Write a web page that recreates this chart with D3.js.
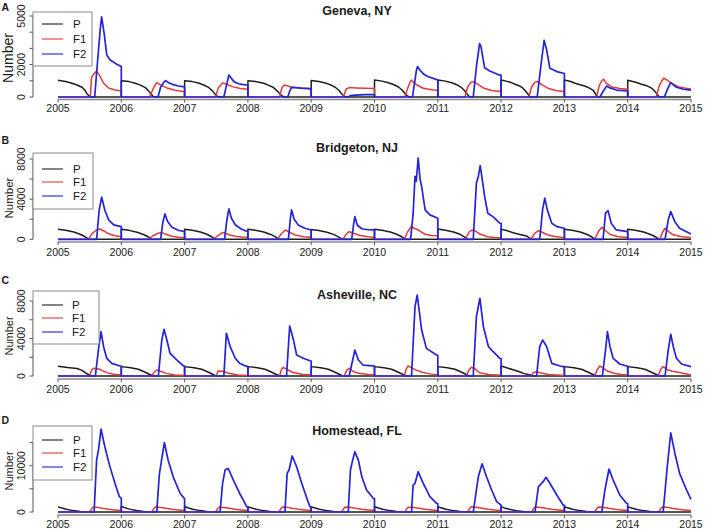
<!DOCTYPE html>
<html><head><meta charset="utf-8">
<script src="https://cdn.jsdelivr.net/npm/d3@7"></script>
<style>
html,body{margin:0;padding:0;background:#fff;}
text{font-family:"Liberation Sans",Arial,Helvetica,sans-serif;fill:#1a1a1a;}
</style></head>
<body><svg id="chart" width="708" height="531"></svg>
<script>
// ---------------- DATA ----------------
const xTickYears = [2005,2006,2007,2008,2009,2010,2011,2012,2013,2014,2015];
const seriesNames = ["P","F1","F2"];
const titles = ["Geneva, NY","Bridgeton, NJ","Asheville, NC","Homestead, FL"];
const letters = ["A","B","C","D"];
const yTicksA = [0,1000,2000,3000,4000,5000]; const yLabelsA = [0,2000,5000];
const yTicksB = [0,2000,4000,6000,8000];      const yLabelsB = [0,4000,8000];
const yTicksC = [0,2000,4000,6000,8000];      const yLabelsC = [0,4000,8000];
const yTicksD = [0,5000,10000,15000];         const yLabelsD = [0,10000];

// Geneva, NY
const genevaP = [[2005,1030],[2005.12,960],[2005.22,850],[2005.3,740],[2005.38,600],[2005.43,380],[2005.46,190],[2005.5,40],[2005.53,0],
[2006,0],[2006,1000],[2006.12,950],[2006.22,850],[2006.3,730],[2006.38,580],[2006.43,380],[2006.47,180],[2006.5,40],[2006.53,0],
[2007,0],[2007,1000],[2007.12,950],[2007.22,860],[2007.3,740],[2007.38,590],[2007.44,380],[2007.48,180],[2007.52,40],[2007.55,0],
[2008,0],[2008,1000],[2008.12,950],[2008.25,850],[2008.33,720],[2008.4,600],[2008.46,380],[2008.5,220],[2008.54,60],[2008.57,0],
[2009,0],[2009,1020],[2009.12,960],[2009.22,870],[2009.3,760],[2009.38,600],[2009.44,400],[2009.48,200],[2009.52,50],[2009.55,0],
[2010,0],[2010,1050],[2010.12,980],[2010.22,880],[2010.3,770],[2010.38,620],[2010.44,420],[2010.48,220],[2010.52,60],[2010.55,0],
[2011,0],[2011,1050],[2011.12,980],[2011.22,880],[2011.3,760],[2011.37,600],[2011.42,400],[2011.46,200],[2011.49,50],[2011.52,0],
[2012,0],[2012,1050],[2012.08,980],[2012.16,890],[2012.24,760],[2012.29,680],[2012.34,560],[2012.37,450],[2012.42,200],[2012.46,0],
[2013,0],[2013,1050],[2013.1,960],[2013.17,850],[2013.25,760],[2013.32,680],[2013.39,560],[2013.45,430],[2013.49,200],[2013.52,0],
[2014,0],[2014,1040],[2014.08,960],[2014.14,890],[2014.22,790],[2014.3,700],[2014.37,560],[2014.41,430],[2014.46,200],[2014.5,0],[2015,0]];
const genevaF1 = [[2005,0],[2005.51,0],[2005.53,1200],[2005.57,1450],[2005.61,1600],[2005.66,1300],[2005.72,850],[2005.8,560],[2005.9,430],[2006,370],[2006,0],
[2006.45,0],[2006.5,500],[2006.56,890],[2006.62,750],[2006.72,560],[2006.85,420],[2007,330],[2007,0],
[2007.49,0],[2007.53,550],[2007.6,860],[2007.66,800],[2007.75,640],[2007.88,520],[2008,480],[2008,0],
[2008.5,0],[2008.54,600],[2008.58,740],[2008.63,680],[2008.7,600],[2008.85,560],[2009,520],[2009,0],
[2009.51,0],[2009.55,480],[2009.6,580],[2009.7,560],[2009.85,540],[2010,530],[2010,0],
[2010.48,0],[2010.52,500],[2010.55,800],[2010.58,1050],[2010.62,900],[2010.67,740],[2010.77,540],[2010.93,430],[2011,420],[2011,0],
[2011.43,0],[2011.47,600],[2011.52,900],[2011.56,950],[2011.63,800],[2011.72,560],[2011.85,400],[2012,340],[2012,0],
[2012.44,0],[2012.48,600],[2012.53,900],[2012.57,960],[2012.65,750],[2012.75,520],[2012.88,380],[2013,340],[2013,0],
[2013.51,0],[2013.55,700],[2013.59,1000],[2013.62,1100],[2013.66,850],[2013.75,620],[2013.88,520],[2014,480],[2014,0],
[2014.45,0],[2014.5,700],[2014.54,1000],[2014.57,1160],[2014.62,1050],[2014.7,820],[2014.8,640],[2014.9,560],[2015,500]];
const genevaF2 = [[2005,0],[2005.58,0],[2005.61,1500],[2005.64,2900],[2005.67,4300],[2005.69,4950],[2005.71,4400],[2005.73,3900],[2005.77,2600],[2005.82,2300],[2005.9,2090],[2006,1880],[2006,0],
[2006.58,0],[2006.62,600],[2006.67,900],[2006.7,1010],[2006.75,880],[2006.82,760],[2006.9,680],[2007,620],[2007,0],
[2007.62,0],[2007.66,700],[2007.7,1360],[2007.73,1200],[2007.78,950],[2007.85,820],[2007.93,760],[2008,740],[2008,0],
[2008.63,0],[2008.66,350],[2008.69,600],[2008.75,580],[2008.85,540],[2009,500],[2009,0],
[2009.58,0],[2009.62,80],[2009.7,120],[2009.85,150],[2010,150],[2010,0],
[2010.6,0],[2010.63,800],[2010.66,1600],[2010.68,1880],[2010.72,1650],[2010.78,1400],[2010.85,1250],[2010.95,1120],[2011,1050],[2011,0],
[2011.56,0],[2011.61,1880],[2011.66,3300],[2011.68,3150],[2011.74,1800],[2011.82,1610],[2011.97,1360],[2012,1350],[2012,0],
[2012.57,0],[2012.64,2290],[2012.68,3490],[2012.72,2900],[2012.77,1780],[2012.88,1570],[2013,1450],[2013,0],
[2013.56,0],[2013.62,400],[2013.67,680],[2013.72,560],[2013.82,430],[2014,370],[2014,0],
[2014.58,0],[2014.63,500],[2014.68,890],[2014.77,600],[2014.88,480],[2015,430]];

// Bridgeton, NJ
const bridgetonP = [[2005,1000],[2005.12,900],[2005.25,720],[2005.35,500],[2005.43,250],[2005.49,0],
[2006,0],[2006,1000],[2006.12,890],[2006.25,700],[2006.35,480],[2006.43,230],[2006.48,0],
[2007,0],[2007,1000],[2007.12,900],[2007.25,720],[2007.35,500],[2007.43,250],[2007.49,0],
[2008,0],[2008,1000],[2008.12,900],[2008.25,730],[2008.35,510],[2008.43,260],[2008.49,0],
[2009,0],[2009,980],[2009.12,880],[2009.25,700],[2009.35,490],[2009.43,240],[2009.5,0],
[2010,0],[2010,1000],[2010.12,900],[2010.25,720],[2010.35,500],[2010.43,250],[2010.49,0],
[2011,0],[2011,1020],[2011.12,910],[2011.25,730],[2011.35,500],[2011.42,250],[2011.47,0],
[2012,0],[2012,1000],[2012.1,850],[2012.19,660],[2012.3,480],[2012.4,330],[2012.48,0],
[2013,0],[2013,1000],[2013.12,900],[2013.25,720],[2013.35,500],[2013.43,250],[2013.49,0],
[2014,0],[2014,1000],[2014.12,900],[2014.25,720],[2014.35,500],[2014.44,250],[2014.5,0],[2015,0]];
const bridgetonF1 = [[2005,0],[2005.48,0],[2005.53,500],[2005.6,900],[2005.66,1030],[2005.72,850],[2005.8,550],[2005.9,350],[2006,260],[2006,0],
[2006.43,0],[2006.5,350],[2006.58,600],[2006.64,670],[2006.7,500],[2006.8,300],[2006.9,200],[2007,150],[2007,0],
[2007.46,0],[2007.52,350],[2007.58,600],[2007.62,670],[2007.7,450],[2007.8,300],[2007.9,220],[2008,200],[2008,0],
[2008.47,0],[2008.52,500],[2008.59,930],[2008.66,700],[2008.75,420],[2008.88,250],[2009,200],[2009,0],
[2009.5,0],[2009.55,500],[2009.6,760],[2009.67,600],[2009.77,380],[2009.9,250],[2010,200],[2010,0],
[2010.47,0],[2010.52,700],[2010.58,1260],[2010.63,1100],[2010.7,900],[2010.8,500],[2010.9,380],[2011,350],[2011,0],
[2011.44,0],[2011.49,700],[2011.53,900],[2011.58,880],[2011.66,550],[2011.78,250],[2011.9,180],[2012,150],[2012,0],
[2012.47,0],[2012.53,600],[2012.59,860],[2012.65,700],[2012.73,450],[2012.85,280],[2013,150],[2013,0],
[2013.48,0],[2013.54,800],[2013.59,1200],[2013.64,900],[2013.72,500],[2013.85,250],[2014,180],[2014,0],
[2014.51,0],[2014.55,700],[2014.59,1100],[2014.64,800],[2014.72,450],[2014.85,250],[2015,180]];
const bridgetonF2 = [[2005,0],[2005.61,0],[2005.65,2900],[2005.69,4200],[2005.74,2900],[2005.8,1930],[2005.88,1430],[2006,1260],[2006,0],
[2006.62,0],[2006.66,1800],[2006.69,2530],[2006.73,1800],[2006.8,1200],[2006.9,900],[2007,770],[2007,0],
[2007.63,0],[2007.67,2000],[2007.7,3030],[2007.74,2100],[2007.8,1450],[2007.9,1000],[2008,760],[2008,0],
[2008.64,0],[2008.67,2000],[2008.69,2930],[2008.73,2000],[2008.8,1400],[2008.9,1100],[2009,930],[2009,0],
[2009.64,0],[2009.67,1500],[2009.69,2260],[2009.73,1400],[2009.8,1050],[2009.9,950],[2010,930],[2010,0],
[2010.57,0],[2010.61,2500],[2010.64,6260],[2010.66,5800],[2010.69,8100],[2010.72,6000],[2010.745,5260],[2010.8,2930],[2010.875,2430],[2011,2100],[2011,0],
[2011.56,0],[2011.61,5600],[2011.64,6260],[2011.67,7330],[2011.68,6930],[2011.74,4260],[2011.79,2600],[2011.87,2260],[2011.98,1600],[2012,1580],[2012,0],
[2012.61,0],[2012.655,2930],[2012.69,4100],[2012.73,2930],[2012.8,1600],[2012.88,1260],[2013,1100],[2013,0],
[2013.61,0],[2013.65,2600],[2013.69,2860],[2013.74,1600],[2013.82,930],[2014,760],[2014,0],
[2014.59,0],[2014.64,1930],[2014.68,2760],[2014.745,1760],[2014.82,1100],[2015,530]];

// Asheville, NC
const ashevilleP = [[2005,1050],[2005.15,900],[2005.3,800],[2005.38,600],[2005.44,300],[2005.5,80],[2005.53,0],
[2006,0],[2006,1000],[2006.15,880],[2006.27,720],[2006.36,450],[2006.45,160],[2006.5,0],
[2007,0],[2007,1000],[2007.15,880],[2007.27,720],[2007.36,450],[2007.45,160],[2007.5,0],
[2008,0],[2008,1000],[2008.15,880],[2008.27,720],[2008.36,450],[2008.45,160],[2008.5,0],
[2009,0],[2009,1000],[2009.15,880],[2009.27,720],[2009.36,450],[2009.45,160],[2009.5,0],
[2010,0],[2010,1000],[2010.15,880],[2010.27,720],[2010.36,450],[2010.45,160],[2010.5,0],
[2011,0],[2011,1000],[2011.15,880],[2011.27,720],[2011.36,450],[2011.45,160],[2011.49,0],
[2012,0],[2012,1070],[2012.1,860],[2012.2,640],[2012.3,420],[2012.35,280],[2012.46,100],[2012.5,0],
[2013,0],[2013,1000],[2013.15,880],[2013.27,720],[2013.36,450],[2013.45,160],[2013.5,0],
[2014,0],[2014,1000],[2014.15,880],[2014.27,720],[2014.36,450],[2014.45,160],[2014.5,0],[2015,0]];
const ashevilleF1 = [[2005,0],[2005.5,0],[2005.53,600],[2005.56,820],[2005.62,780],[2005.66,710],[2005.77,360],[2005.88,180],[2006,100],[2006,0],
[2006.48,0],[2006.52,400],[2006.56,640],[2006.62,500],[2006.71,280],[2006.85,100],[2007,50],[2007,0],
[2007.5,0],[2007.53,530],[2007.6,500],[2007.7,300],[2007.85,100],[2008,60],[2008,0],
[2008.5,0],[2008.53,700],[2008.56,930],[2008.62,700],[2008.7,400],[2008.85,180],[2009,100],[2009,0],
[2009.52,0],[2009.56,600],[2009.6,820],[2009.67,450],[2009.75,300],[2009.9,150],[2010,100],[2010,0],
[2010.47,0],[2010.5,700],[2010.53,1070],[2010.58,900],[2010.65,650],[2010.75,400],[2010.9,200],[2011,120],[2011,0],
[2011.45,0],[2011.49,600],[2011.53,930],[2011.6,700],[2011.66,350],[2011.8,150],[2012,80],[2012,0],
[2012.47,0],[2012.51,350],[2012.56,460],[2012.65,300],[2012.75,150],[2013,50],[2013,0],
[2013.48,0],[2013.52,700],[2013.56,1070],[2013.6,900],[2013.67,560],[2013.78,300],[2013.9,150],[2014,100],[2014,0],
[2014.48,0],[2014.52,700],[2014.56,1000],[2014.62,700],[2014.7,500],[2014.8,400],[2015,100]];
const ashevilleF2 = [[2005,0],[2005.59,0],[2005.625,2000],[2005.645,3130],[2005.68,4730],[2005.72,3130],[2005.77,1890],[2005.85,1350],[2005.98,1070],[2006,1050],[2006,0],
[2006.585,0],[2006.64,3840],[2006.675,4980],[2006.72,3840],[2006.77,2420],[2006.875,1710],[2006.98,1070],[2007,1050],[2007,0],
[2007.62,0],[2007.66,4550],[2007.72,3130],[2007.8,1890],[2007.87,1350],[2007.95,1100],[2008,1000],[2008,0],
[2008.61,0],[2008.66,5330],[2008.72,3840],[2008.77,2240],[2008.875,1890],[2008.98,1630],[2009,1600],[2009,0],
[2009.6,0],[2009.69,2770],[2009.745,1710],[2009.82,1170],[2009.98,1070],[2010,1060],[2010,0],
[2010.585,0],[2010.64,7400],[2010.675,8640],[2010.745,4900],[2010.82,2950],[2010.98,2240],[2011,2200],[2011,0],
[2011.56,0],[2011.61,6330],[2011.665,8290],[2011.72,5260],[2011.8,3130],[2011.875,2590],[2011.98,1890],[2012,1850],[2012,0],
[2012.56,0],[2012.61,3130],[2012.655,3840],[2012.72,3130],[2012.8,1350],[2012.93,1070],[2012.98,1000],[2013,1000],[2013,0],
[2013.6,0],[2013.65,2770],[2013.68,4730],[2013.72,3130],[2013.77,1890],[2013.875,1280],[2013.98,1070],[2014,1050],[2014,0],
[2014.59,0],[2014.64,2770],[2014.68,4450],[2014.72,3130],[2014.77,1890],[2014.85,1280],[2015,1000]];

// Homestead, FL
const homesteadP = [[2005,1150],[2005.05,900],[2005.13,600],[2005.24,300],[2005.35,110],[2005.45,20],[2005.5,0],
[2006,0],[2006,1250],[2006.05,950],[2006.13,620],[2006.24,310],[2006.35,110],[2006.45,20],[2006.5,0],
[2007,0],[2007,1200],[2007.05,930],[2007.13,610],[2007.24,300],[2007.35,110],[2007.45,20],[2007.5,0],
[2008,0],[2008,1150],[2008.05,900],[2008.13,600],[2008.24,300],[2008.35,110],[2008.45,20],[2008.5,0],
[2009,0],[2009,1150],[2009.05,900],[2009.13,600],[2009.24,300],[2009.35,110],[2009.45,20],[2009.5,0],
[2010,0],[2010,1200],[2010.05,930],[2010.13,610],[2010.24,300],[2010.35,110],[2010.45,20],[2010.5,0],
[2011,0],[2011,1150],[2011.05,900],[2011.13,600],[2011.24,300],[2011.35,110],[2011.45,20],[2011.5,0],
[2012,0],[2012,1150],[2012.05,880],[2012.13,580],[2012.24,290],[2012.35,100],[2012.45,20],[2012.5,0],
[2013,0],[2013,1150],[2013.05,900],[2013.13,600],[2013.24,300],[2013.35,110],[2013.45,20],[2013.5,0],
[2014,0],[2014,1150],[2014.05,900],[2014.13,600],[2014.24,300],[2014.35,110],[2014.45,20],[2014.5,0],[2015,0]];
const homesteadF1 = [[2005,0],[2005.5,0],[2005.53,700],[2005.56,1050],[2005.62,1000],[2005.7,800],[2005.8,600],[2005.9,450],[2006,300],[2006,0],
[2006.48,0],[2006.51,700],[2006.54,1100],[2006.6,1050],[2006.7,800],[2006.8,600],[2006.9,450],[2007,320],[2007,0],
[2007.49,0],[2007.52,700],[2007.55,1050],[2007.62,980],[2007.7,800],[2007.8,600],[2007.9,450],[2008,300],[2008,0],
[2008.49,0],[2008.52,700],[2008.55,1100],[2008.62,1000],[2008.7,800],[2008.8,600],[2008.9,450],[2009,300],[2009,0],
[2009.48,0],[2009.51,700],[2009.54,1100],[2009.6,1050],[2009.7,800],[2009.8,600],[2009.9,450],[2010,320],[2010,0],
[2010.48,0],[2010.51,700],[2010.54,1050],[2010.6,1000],[2010.7,800],[2010.8,600],[2010.9,450],[2011,300],[2011,0],
[2011.47,0],[2011.5,700],[2011.53,1150],[2011.58,1100],[2011.68,850],[2011.8,580],[2011.9,420],[2012,300],[2012,0],
[2012.48,0],[2012.51,700],[2012.54,1100],[2012.6,1050],[2012.7,800],[2012.8,600],[2012.9,450],[2013,300],[2013,0],
[2013.48,0],[2013.51,700],[2013.54,1100],[2013.6,1050],[2013.7,800],[2013.8,600],[2013.9,450],[2014,300],[2014,0],
[2014.49,0],[2014.52,700],[2014.55,1100],[2014.61,1050],[2014.7,800],[2014.8,600],[2014.9,450],[2015,320]];
const homesteadF2 = [[2005,0],[2005.57,0],[2005.61,11200],[2005.64,13400],[2005.68,17900],[2005.74,14100],[2005.82,9800],[2005.9,6200],[2005.97,3300],[2006,2950],[2006,0],
[2006.56,0],[2006.6,8000],[2006.64,11600],[2006.68,15000],[2006.74,11200],[2006.82,7600],[2006.93,4000],[2006.995,2950],[2007,2900],[2007,0],
[2007.56,0],[2007.6,6200],[2007.64,9100],[2007.69,9400],[2007.77,6900],[2007.87,4000],[2007.93,2500],[2007.98,1150],[2008,1100],[2008,0],
[2008.585,0],[2008.62,8350],[2008.65,9070],[2008.7,12100],[2008.77,9780],[2008.85,6200],[2008.95,2230],[2008.98,1150],[2009,1100],[2009,0],
[2009.585,0],[2009.62,9070],[2009.655,11200],[2009.69,13000],[2009.745,11200],[2009.8,7600],[2009.875,4750],[2009.98,2950],[2010,2900],[2010,0],
[2010.585,0],[2010.61,5830],[2010.64,6200],[2010.69,8700],[2010.77,6200],[2010.875,3300],[2010.98,1880],[2011,1800],[2011,0],
[2011.56,0],[2011.64,7600],[2011.7,10400],[2011.77,7600],[2011.85,4750],[2011.93,2230],[2012,1500],[2012,0],
[2012.535,0],[2012.59,5470],[2012.64,6200],[2012.665,6550],[2012.71,7500],[2012.77,6200],[2012.88,3670],[2012.98,1500],[2013,1450],[2013,0],
[2013.59,0],[2013.64,4750],[2013.705,9290],[2013.77,6900],[2013.875,3670],[2013.98,1880],[2014,1800],[2014,0],
[2014.56,0],[2014.62,9070],[2014.68,17100],[2014.745,12700],[2014.82,8350],[2014.93,4750],[2015,2740]];

// ---------------- DRAWING ----------------
const colors = {P:"#1e1e1e", F1:"#e03a3a", F2:"#2424d6"};
const panels = [
  {series:[genevaP,genevaF1,genevaF2], ticks:yTicksA, labels:yLabelsA, dom:[0,5000], rng:[97,16], axisY:99.5,
   legend:{x:33,y:12,w:59,h:54,rows:[24,39,54],tx:73}, titleY:15, letterY:11, tickLabY:111.5, numY:58, numFs:14},
  {series:[bridgetonP,bridgetonF1,bridgetonF2], ticks:yTicksB, labels:yLabelsB, dom:[0,8000], rng:[239.3,159], axisY:242,
   legend:{x:33,y:153,w:60,h:56,rows:[169,182,196],tx:73}, titleY:152, letterY:144, tickLabY:256, numY:198, numFs:11.5},
  {series:[ashevilleP,ashevilleF1,ashevilleF2], ticks:yTicksC, labels:yLabelsC, dom:[0,8000], rng:[376,301], axisY:379,
   legend:{x:33,y:291,w:66,h:53,rows:[305,318,332],tx:72}, titleY:299, letterY:284, tickLabY:392.5, numY:336, numFs:11},
  {series:[homesteadP,homesteadF1,homesteadF2], ticks:yTicksD, labels:yLabelsD, dom:[0,10000], rng:[512,465.7], axisY:515,
   legend:{x:33,y:426,w:59,h:54,rows:[440,453,467],tx:73}, titleY:435, letterY:424, tickLabY:528, numY:471, numFs:11}
];

const svg = d3.select("#chart");
const x = d3.scaleLinear().domain([2005,2015]).range([58,691]);
const axisCol = "#555";

panels.forEach((p,i)=>{
  const y = d3.scaleLinear().domain(p.dom).range(p.rng);
  const g = svg.append("g");
  const line = d3.line().x(d=>x(d[0])).y(d=>y(d[1]));

  // series
  p.series.forEach((s,k)=>{
    g.append("path").datum(s).attr("d",line).attr("fill","none")
      .attr("stroke",colors[seriesNames[k]]).attr("stroke-width",k===2?1.7:1.5)
      .attr("stroke-linejoin","round");
  });

  // x axis
  g.append("line").attr("x1",x(2005)).attr("x2",x(2015)).attr("y1",p.axisY).attr("y2",p.axisY)
    .attr("stroke","#8a8a8a").attr("stroke-width",1.6);
  xTickYears.forEach(t=>{
    g.append("line").attr("x1",x(t)).attr("x2",x(t)).attr("y1",p.axisY).attr("y2",p.axisY+3)
      .attr("stroke",axisCol).attr("stroke-width",1);
    g.append("text").attr("x",x(t)).attr("y",p.tickLabY).attr("text-anchor","middle")
      .attr("font-size",10.5).text(t);
  });

  // y axis
  const yTop = y(d3.max(p.ticks));
  g.append("line").attr("x1",33).attr("x2",33).attr("y1",y(0)).attr("y2",yTop)
    .attr("stroke",axisCol).attr("stroke-width",1);
  p.ticks.forEach(t=>{
    g.append("line").attr("x1",29.5).attr("x2",33).attr("y1",y(t)).attr("y2",y(t))
      .attr("stroke",axisCol).attr("stroke-width",1);
  });
  p.labels.forEach(t=>{
    g.append("text").attr("transform",`translate(25,${y(t)}) rotate(-90)`)
      .attr("text-anchor","middle").attr("font-size",10.5).text(t);
  });
  g.append("text").attr("transform",`translate(12.5,${p.numY}) rotate(-90)`)
    .attr("text-anchor","middle").attr("font-size",p.numFs).text("Number");

  // legend
  const L = p.legend;
  g.append("rect").attr("x",L.x).attr("y",L.y).attr("width",L.w).attr("height",L.h)
    .attr("fill","#fff").attr("stroke","#8a8a8a").attr("stroke-width",1);
  seriesNames.forEach((n,k)=>{
    g.append("line").attr("x1",42).attr("x2",63).attr("y1",L.rows[k]).attr("y2",L.rows[k])
      .attr("stroke",colors[n]).attr("stroke-width",1.1);
    g.append("text").attr("x",L.tx).attr("y",L.rows[k]+4).attr("font-size",11.5).text(n);
  });

  // title and letter
  g.append("text").attr("x",357).attr("y",p.titleY).attr("text-anchor","middle")
    .attr("font-size",12.5).attr("font-weight","bold").text(titles[i]);
  g.append("text").attr("x",1.5).attr("y",p.letterY).attr("font-size",10.5)
    .attr("font-weight","bold").text(letters[i]);
});
</script></body></html>
